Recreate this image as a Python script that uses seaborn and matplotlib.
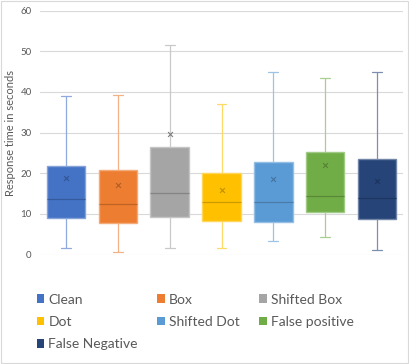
import numpy as np
import pandas as pd
import matplotlib
matplotlib.use("Agg")
import matplotlib.pyplot as plt
import seaborn as sns
from matplotlib.patches import Patch, Rectangle
from matplotlib.colors import to_rgb

# five-number summaries (min, q1, median, q3, max)
categories = ["Clean", "Box", "Shifted Box", "Dot", "Shifted Dot", "False positive", "False Negative"]
mins = [1.5, 0.7, 1.5, 1.5, 3.3, 4.3, 1.1]
q1s = [8.9, 7.7, 9.3, 8.3, 8.0, 10.4, 8.8]
medians = [13.6, 12.4, 15.1, 12.8, 12.8, 14.3, 13.8]
q3s = [21.8, 20.9, 26.4, 20.0, 22.8, 25.1, 23.6]
maxs = [38.9, 39.1, 51.6, 36.9, 44.8, 43.3, 45.0]
means = [18.7, 17.1, 29.7, 15.9, 18.6, 22.0, 18.1]

colors = ["#4472C4", "#ED7D31", "#A5A5A5", "#FFC000", "#5B9BD5", "#70AD47", "#264478"]


def mix(c, other, t):
    a = np.array(to_rgb(c))
    b = np.array(to_rgb(other))
    return tuple(a * (1 - t) + b * t)


rows = []
for i, cat in enumerate(categories):
    for v in [mins[i], q1s[i], medians[i], q3s[i], maxs[i]]:
        rows.append({"cat": cat, "value": v})
df = pd.DataFrame(rows)

sns.set_style("white")
plt.rcParams['font.family'] = ['Lato', 'DejaVu Sans']

fig = plt.figure(figsize=(4.09, 3.64), dpi=100)
ax = fig.add_axes([40 / 409, 1 - 254.5 / 364, 363 / 409, 244 / 364])

sns.boxplot(data=df, x="cat", y="value", hue="cat", order=categories, hue_order=categories,
            palette=colors, whis=(0, 100), width=0.74, showfliers=False, legend=False,
            capwidths=0.19, ax=ax)

for i, cont in enumerate(ax.containers):
    c = colors[i]
    for b in cont.boxes:
        b.set_facecolor(c)
        b.set_edgecolor(mix(c, "white", 0.35))
        b.set_linewidth(1.0)
    for m in cont.medians:
        m.set_color(mix(c, "black", 0.2))
        m.set_linewidth(0.9)
    for w in list(cont.whiskers) + list(cont.caps):
        w.set_color(mix(c, "white", 0.4))
        w.set_linewidth(0.9)

sns.stripplot(x=categories, y=means, hue=categories, order=categories, hue_order=categories,
              palette=[mix(c, "black", 0.25) for c in colors], marker="x", size=3.5,
              linewidth=0.8, jitter=False, legend=False, ax=ax, zorder=5)

ax.set_ylim(0, 60)
ax.set_xlim(-0.5, 6.5)
ax.set_yticks(range(0, 61, 10))
ax.set_xticks([])
ax.set_xlabel("")
ax.set_ylabel("Response time in seconds", fontsize=8, color="#595959", labelpad=3)
ax.tick_params(axis="y", labelsize=7, labelcolor="#595959", length=0, pad=6)
ax.grid(True, axis="y", color="#d9d9d9", linewidth=0.8)
ax.set_axisbelow(True)
for s in ax.spines.values():
    s.set_visible(False)

# legend reads row-wise in the reference, matplotlib fills columns first
handles = [Patch(facecolor=c, edgecolor="none", label=l) for c, l in zip(colors, categories)]
order = [0, 3, 6, 1, 4, 2, 5]
fig.legend(handles=[handles[k] for k in order], loc="upper left",
           bbox_to_anchor=(24 / 409, 1 - 281 / 364),
           ncol=3, frameon=False, fontsize=10, handlelength=0.55, handleheight=0.55,
           handletextpad=0.3, columnspacing=1.4, labelspacing=0.75, labelcolor="#595959")

fig.patches.append(Rectangle((0.002, 0.002), 0.996, 0.996, transform=fig.transFigure,
                             fill=False, edgecolor="#d9d9d9", linewidth=0.8))

fig.savefig("out.png", dpi=100)
